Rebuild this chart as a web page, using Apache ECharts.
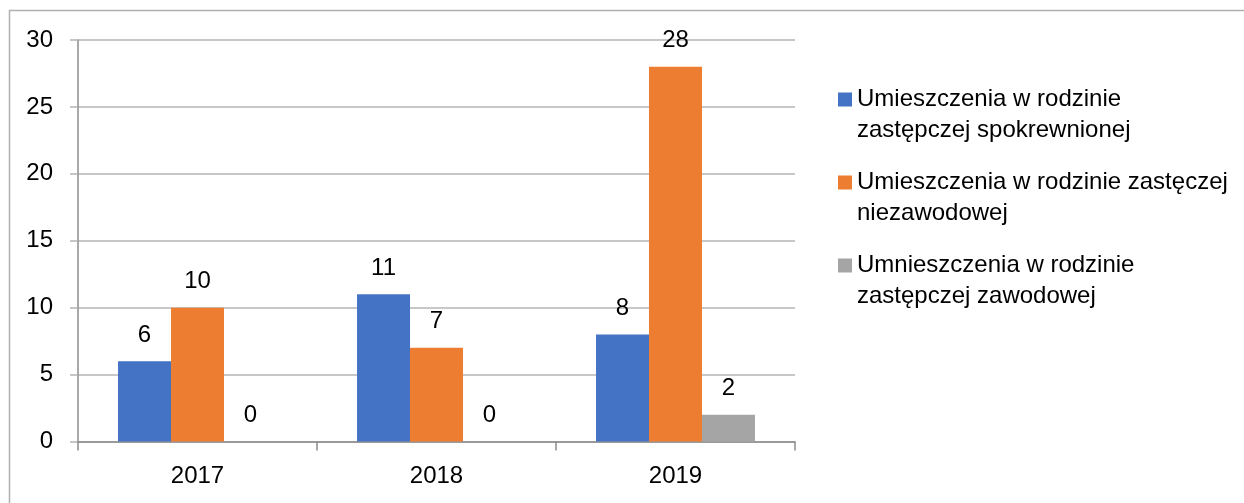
<!DOCTYPE html>
<html>
<head>
<meta charset="utf-8">
<script src="https://cdn.jsdelivr.net/npm/echarts@6/dist/echarts.min.js"></script>
<style>
  html, body { margin: 0; padding: 0; background: #fff; }
  #chart { width: 1244px; height: 503px; }
</style>
</head>
<body>
<div id="chart"></div>
<script>
// dane z wykresu
var years = ['2017', '2018', '2019'];
var seriesNames = [
  'Umieszczenia w rodzinie zastępczej spokrewnionej',
  'Umieszczenia w rodzinie zastęczej niezawodowej',
  'Umnieszczenia w rodzinie zastępczej zawodowej'
];
// podział nazw w legendzie na dwie linie (pusta pierwsza linia wyrównuje ikonę z pierwszym wierszem)
var legendLines = {
  'Umieszczenia w rodzinie zastępczej spokrewnionej': '\nUmieszczenia w rodzinie\nzastępczej spokrewnionej',
  'Umieszczenia w rodzinie zastęczej niezawodowej': '\nUmieszczenia w rodzinie zastęczej\nniezawodowej',
  'Umnieszczenia w rodzinie zastępczej zawodowej': '\nUmnieszczenia w rodzinie\nzastępczej zawodowej'
};
var spokrewniona = [6, 11, 8];
var niezawodowa = [10, 7, 28];
var zawodowa = [0, 0, 2];
var colors = ['#4472C4', '#ED7D31', '#A5A5A5'];

var FONT = 'Liberation Sans';

function barSeries(name, data, color) {
  return {
    name: name,
    type: 'bar',
    data: data,
    barGap: '0%',
    barCategoryGap: '33.5%',
    itemStyle: { color: color },
    label: {
      show: true,
      position: 'top',
      distance: 14,
      color: '#000',
      fontFamily: FONT,
      fontSize: 24
    }
  };
}

var chart = echarts.init(document.getElementById('chart'));

chart.setOption({
  animation: false,
  textStyle: { fontFamily: FONT },
  grid: {
    left: 78,
    right: 449,
    top: 40,
    bottom: 61.5,
    containLabel: false
  },
  legend: {
    orient: 'vertical',
    left: 838,
    top: 53,
    padding: 0,
    itemWidth: 14,
    itemHeight: 14,
    itemGap: -10,
    icon: 'rect',
    data: seriesNames,
    formatter: function (name) { return legendLines[name]; },
    textStyle: {
      fontFamily: FONT,
      fontSize: 24,
      color: '#000',
      lineHeight: 31
    }
  },
  xAxis: {
    type: 'category',
    data: years,
    axisLine: { lineStyle: { color: '#8c8c8c', width: 1.5 } },
    axisTick: { show: true, length: 9, lineStyle: { color: '#8c8c8c', width: 1.5 } },
    axisLabel: { color: '#000', fontSize: 24, fontFamily: FONT, margin: 23 }
  },
  yAxis: {
    type: 'value',
    min: 0,
    max: 30,
    interval: 5,
    axisLine: { show: true, lineStyle: { color: '#8c8c8c', width: 1.5 } },
    axisTick: { show: true, length: 8, lineStyle: { color: '#b4b4b4', width: 1.5 } },
    splitLine: { lineStyle: { color: '#b4b4b4', width: 1.5 } },
    axisLabel: { color: '#000', fontSize: 24, fontFamily: FONT, margin: 25 }
  },
  graphic: [
    {
      type: 'polyline',
      shape: { points: [[9.5, 503], [9.5, 10.5], [1244, 10.5]] },
      style: { stroke: '#b0b0b0', lineWidth: 1.5, fill: null },
      silent: true
    }
  ],
  series: [
    barSeries(seriesNames[0], spokrewniona, colors[0]),
    barSeries(seriesNames[1], niezawodowa, colors[1]),
    barSeries(seriesNames[2], zawodowa, colors[2])
  ]
});
</script>
</body>
</html>
